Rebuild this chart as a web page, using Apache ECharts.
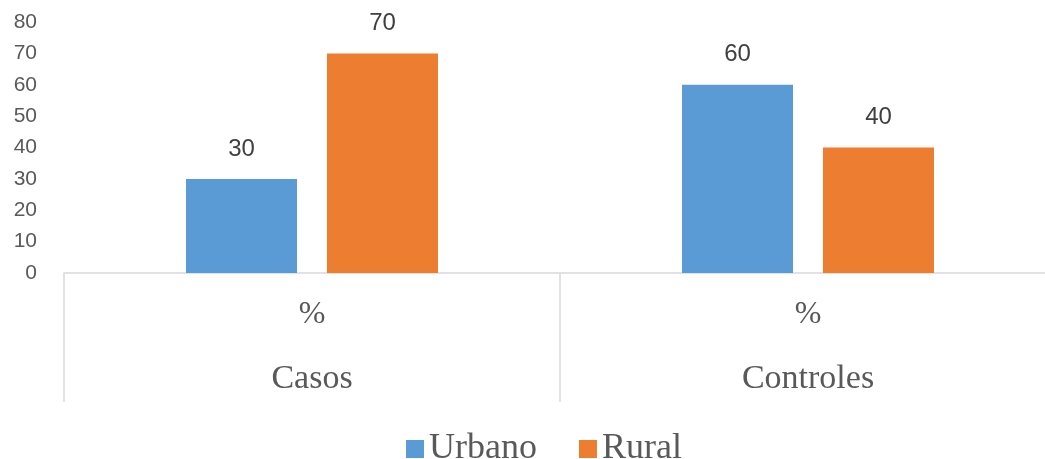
<!DOCTYPE html>
<html><head><meta charset="utf-8">
<script src="https://cdn.jsdelivr.net/npm/echarts@6/dist/echarts.min.js"></script>
<style>html,body{margin:0;padding:0;background:#fff}#c{width:1045px;height:459px}</style>
</head><body><div id="c"></div>
<script>
const groups = ['Casos', 'Controles'];
const subLabels = ['%', '%'];
const urbano = [30, 60];
const rural = [70, 40];
const seriesNames = ['Urbano', 'Rural'];

const chart = echarts.init(document.getElementById('c'));
chart.setOption({
  animation: false,
  color: ['#5b9bd5', '#ed7d31'],
  grid: { left: 64, top: 22, width: 992, height: 251, outerBoundsMode: 'none', containLabel: false },
  legend: {
    data: seriesNames, top: 426, left: 401,
    itemWidth: 18, itemHeight: 18, itemGap: 42, icon: 'rect',
    textStyle: { fontFamily: 'Liberation Serif', fontSize: 36, color: '#595959', padding: [0,0,0,0] }
  },
  xAxis: [
    { type: 'category', data: subLabels, position: 'bottom',
      axisLine: { lineStyle: { color: '#d9d9d9', width: 1.5 } },
      axisTick: { show: false },
      axisLabel: { fontFamily: 'Liberation Serif', fontSize: 32, color: '#595959', margin: 26 } },
    { type: 'category', data: groups, position: 'bottom', offset: 0,
      axisLine: { show: false },
      axisTick: { show: true, length: 129, inside: false, lineStyle: { color: '#d9d9d9', width: 1.5 } },
      axisLabel: { fontFamily: 'Liberation Serif', fontSize: 34, color: '#595959', margin: 89 } }
  ],
  yAxis: {
    type: 'value', min: 0, max: 80, interval: 10,
    axisLine: { show: false }, axisTick: { show: false }, splitLine: { show: false },
    axisLabel: { fontFamily: 'Liberation Sans', fontSize: 21, color: '#595959', margin: 27 }
  },
  series: [
    { name: seriesNames[0], type: 'bar', data: urbano, barWidth: 111, barGap: '27%', xAxisIndex: 0,
      label: { show: true, position: 'top', distance: 18, fontFamily: 'Liberation Sans', fontSize: 24, color: '#404040' } },
    { name: seriesNames[1], type: 'bar', data: rural, barWidth: 111, barGap: '27%', xAxisIndex: 0,
      label: { show: true, position: 'top', distance: 18, fontFamily: 'Liberation Sans', fontSize: 24, color: '#404040' } }
  ]
});
</script></body></html>
